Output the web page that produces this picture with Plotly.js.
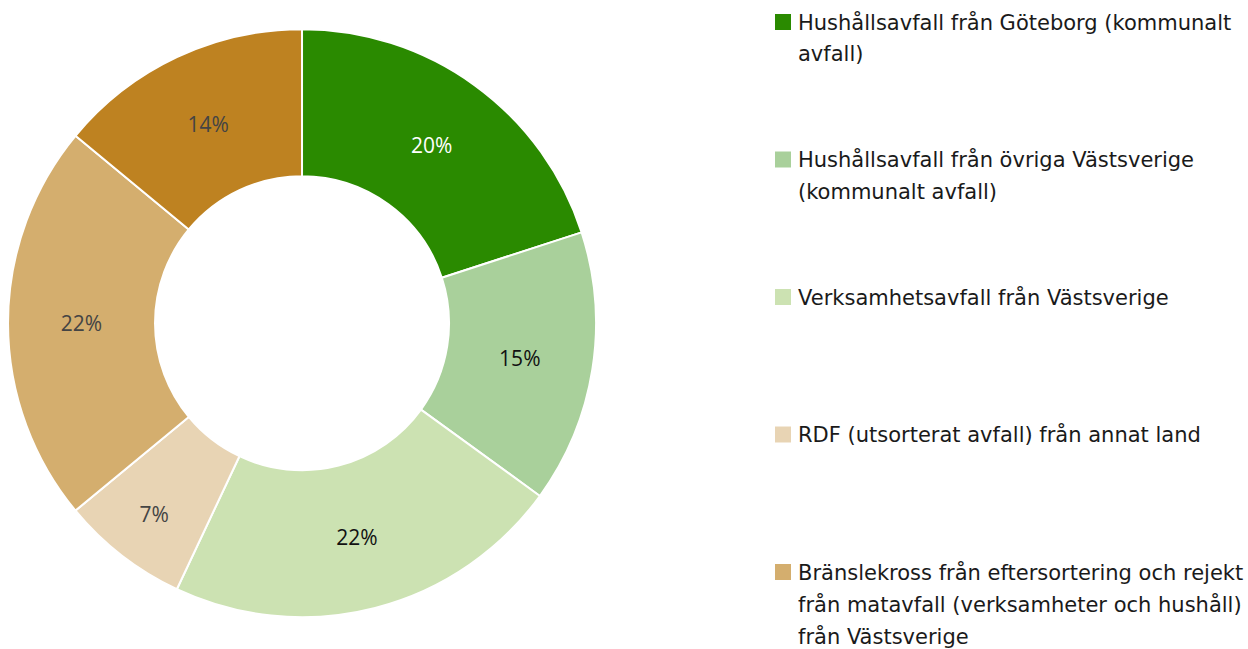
<!DOCTYPE html>
<html>
<head>
<meta charset="utf-8">
<script src="https://cdn.plot.ly/plotly-3.0.1.min.js"></script>
<style>
html,body{margin:0;padding:0;background:#fff;}
#chart{width:1248px;height:649px;}
</style>
</head>
<body>
<div id="chart"></div>
<script>
// Categories (legend lines split with "\n")
var categories = [
  "Hushållsavfall från Göteborg (kommunalt\navfall)",
  "Hushållsavfall från övriga Västsverige\n(kommunalt avfall)",
  "Verksamhetsavfall från Västsverige",
  "RDF (utsorterat avfall) från annat land",
  "Bränslekross från eftersortering och rejekt\nfrån matavfall (verksamheter och hushåll)\nfrån Västsverige",
  "Övrigt"
];
var shares = [20, 15, 22, 7, 22, 14];
var colors = ["#2a8a00", "#a9d09b", "#cce2b2", "#e8d4b4", "#d4ae6e", "#be8221"];
var textColors = ["#ffffff", "#111111", "#111111", "#444444", "#444444", "#444444"];
var legendCount = 5; // entries visible in the picture

var FONT = "'Open Sans', 'Noto Sans', sans-serif";
var LEGEND_FONT = "'DejaVu Sans', 'Open Sans', sans-serif";

var trace = {
  type: "pie",
  labels: categories.map(function(c){ return c.replace(/\n/g, " "); }),
  values: shares,
  hole: 0.5,
  sort: false,
  direction: "clockwise",
  rotation: 0,
  marker: {colors: colors, line: {color: "#ffffff", width: 2}},
  texttemplate: "%{value}%",
  textinfo: "text",
  textposition: "inside",
  insidetextorientation: "horizontal",
  insidetextfont: {family: FONT, size: 21, color: textColors},
  domain: {x: [0.0064, 0.4776], y: [0.049, 0.955]},
  showlegend: false,
  hoverinfo: "label+percent"
};

var annotations = [];
var shapes = [];
var lx = 796 / 1248;       // legend text left (paper)
var topY = 22;             // first entry center, px from top
var entryGap = 137.5;      // px between entries
var lineH = 32;            // px per text line
for (var i = 0; i < legendCount; i++) {
  var lines = categories[i].split("\n");
  var cy = topY + i * entryGap;
  shapes.push({
    type: "rect", xref: "paper", yref: "paper",
    x0: 775 / 1248, x1: 791 / 1248,
    y0: 1 - (cy + 8) / 649, y1: 1 - (cy - 8) / 649,
    fillcolor: colors[i], line: {width: 0}
  });
  for (var j = 0; j < lines.length; j++) {
    annotations.push({
      xref: "paper", yref: "paper",
      x: lx, y: 1 - (cy + j * lineH) / 649,
      xanchor: "left", yanchor: "middle",
      text: lines[j], showarrow: false, align: "left",
      font: {family: LEGEND_FONT, size: 21, color: "#1a1a1a"}
    });
  }
}

var layout = {
  width: 1248, height: 649,
  margin: {l: 0, r: 0, t: 0, b: 0},
  paper_bgcolor: "#ffffff",
  plot_bgcolor: "#ffffff",
  showlegend: false,
  font: {family: FONT},
  annotations: annotations,
  shapes: shapes
};

Plotly.newPlot("chart", [trace], layout, {displayModeBar: false, staticPlot: true});
</script>
</body>
</html>
